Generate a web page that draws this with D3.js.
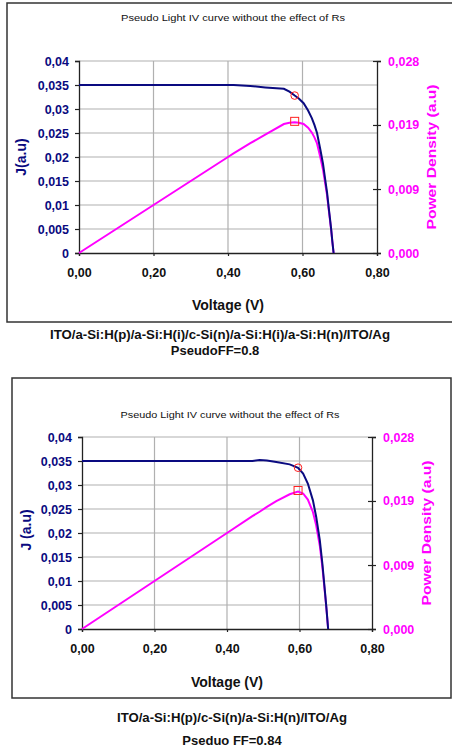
<!DOCTYPE html>
<html>
<head>
<meta charset="utf-8">
<script src="https://cdn.jsdelivr.net/npm/d3@7"></script>
<style>
body { margin: 0; background: #fff; }
text { font-family: "Liberation Sans", Arial, sans-serif; }
</style>
</head>
<body>
<script>
// tick values + labels (comma decimals like the original excel plot)
var jTicks = [0, 0.005, 0.01, 0.015, 0.02, 0.025, 0.03, 0.035, 0.04];
var jTickLabels = ["0", "0,005", "0,01", "0,015", "0,02", "0,025", "0,03", "0,035", "0,04"];
var vTicks = [0, 0.2, 0.4, 0.6, 0.8];
var vTickLabels = ["0,00", "0,20", "0,40", "0,60", "0,80"];
var pTicks = [0, 0.00933, 0.01867, 0.028];
var pTickLabels = ["0,000", "0,009", "0,019", "0,028"];

// chart 1 : ITO/a-Si:H(p)/a-Si:H(i)/c-Si(n)/a-Si:H(i)/a-Si:H(n)/ITO/Ag
var voltageTop = [0, 0.10, 0.20, 0.30, 0.40, 0.415, 0.46, 0.50, 0.55, 0.565, 0.579, 0.59, 0.603, 0.615, 0.625, 0.632, 0.639, 0.648, 0.655, 0.661, 0.666, 0.670, 0.674, 0.677, 0.680, 0.6835];
var currentTop = [0.035, 0.035, 0.035, 0.035, 0.035, 0.035, 0.0348, 0.0345, 0.0342, 0.0336, 0.0328, 0.0322, 0.0312, 0.0297, 0.0281, 0.0267, 0.025, 0.0215, 0.0186, 0.0153, 0.0126, 0.0097, 0.0070, 0.0049, 0.0025, 0];
var powerTop = [0, 0.0035, 0.007, 0.0105, 0.014, 0.01453, 0.01601, 0.01725, 0.01881, 0.01898, 0.01905, 0.01900, 0.01881, 0.01827, 0.01756, 0.01687, 0.01598, 0.01393, 0.01218, 0.01011, 0.00839, 0.0065, 0.00472, 0.00332, 0.0017, 0];
var mppTop = {v: 0.579, j: 0.0328, p: 0.0192};

// chart 2 : ITO/a-Si:H(p)/c-Si(n)/a-Si:H(n)/ITO/Ag
var voltageBottom = [0, 0.1, 0.2, 0.3, 0.4, 0.47, 0.49, 0.51, 0.536, 0.573, 0.596, 0.61, 0.623, 0.637, 0.646, 0.656, 0.663, 0.669, 0.674, 0.679];
var currentBottom = [0.035, 0.035, 0.035, 0.035, 0.035, 0.035, 0.0352, 0.0351, 0.0348, 0.0343, 0.0336, 0.0324, 0.0303, 0.0268, 0.0234, 0.0185, 0.0137, 0.0088, 0.0046, 0];
var powerBottom = [0, 0.0035, 0.007, 0.0105, 0.014, 0.01645, 0.0171, 0.0178, 0.01865, 0.01965, 0.02003, 0.01976, 0.01888, 0.01707, 0.01512, 0.01214, 0.00908, 0.00589, 0.0031, 0];
var mppBottom = {v: 0.596, j: 0.0336, p: 0.0202};

var svg = d3.select("body").append("svg")
    .attr("width", 452)
    .attr("height", 750);

function drawChart(c) {
    // outer frame
    svg.append("rect")
        .attr("x", c.frame[0]).attr("y", c.frame[1])
        .attr("width", c.frame[2]).attr("height", c.frame[3])
        .attr("fill", "#fff").attr("stroke", "#333").attr("stroke-width", 1.5);

    var x = d3.scaleLinear().domain([0, 0.8]).range([c.left, c.right]);
    var y = d3.scaleLinear().domain([0, 0.04]).range([c.bottom, c.top]);
    var y2 = d3.scaleLinear().domain([0, 0.028]).range([c.bottom, c.top]);

    var g = svg.append("g");

    // grid
    g.selectAll(".hgrid").data(jTicks.slice(1)).enter().append("line")
        .attr("x1", c.left).attr("x2", c.right)
        .attr("y1", function(d) { return y(d); }).attr("y2", function(d) { return y(d); })
        .attr("stroke", "#b0b0b0").attr("stroke-width", 1.2);
    g.selectAll(".vgrid").data(vTicks.slice(1, 4)).enter().append("line")
        .attr("y1", c.top).attr("y2", c.bottom)
        .attr("x1", function(d) { return x(d); }).attr("x2", function(d) { return x(d); })
        .attr("stroke", "#b0b0b0").attr("stroke-width", 1.2);

    // left axis
    var ax = g.append("g")
        .attr("transform", "translate(" + c.left + ",0)")
        .call(d3.axisLeft(y).tickValues(jTicks).tickSize(4).tickPadding(6)
            .tickFormat(function(d, i) { return jTickLabels[i]; }));
    ax.selectAll("text").attr("fill", "#0a0a80").style("font-size", "12.5px").style("font-weight", "bold");

    // bottom axis
    var bx = g.append("g")
        .attr("transform", "translate(0," + c.bottom + ")")
        .call(d3.axisBottom(x).tickValues(vTicks).tickSize(3).tickPadding(12)
            .tickFormat(function(d, i) { return vTickLabels[i]; }));
    bx.selectAll("text").attr("fill", "#111").style("font-size", "12.5px").style("font-weight", "bold");

    // right axis
    var rx = g.append("g")
        .attr("transform", "translate(" + c.right + ",0)")
        .call(d3.axisRight(y2).tickValues(pTicks).tickSize(4).tickPadding(7)
            .tickFormat(function(d, i) { return pTickLabels[i]; }));
    rx.selectAll(".tick line").attr("x1", -4);
    rx.selectAll("text").attr("fill", "#ff00ff").style("font-size", "12.5px").style("font-weight", "bold");

    [ax, bx, rx].forEach(function(a) {
        a.select(".domain").attr("stroke", "#222").attr("stroke-width", 1.3);
        a.selectAll(".tick line").attr("stroke", "#222").attr("stroke-width", 1.2);
    });

    // curves
    var jLine = d3.line()
        .x(function(d, i) { return x(c.volt[i]); })
        .y(function(d) { return y(d); });
    var pLine = d3.line()
        .x(function(d, i) { return x(c.volt[i]); })
        .y(function(d) { return y2(d); });

    g.append("path").datum(c.power).attr("d", pLine)
        .attr("fill", "none").attr("stroke", "#ff00ff").attr("stroke-width", 2);
    g.append("path").datum(c.current).attr("d", jLine)
        .attr("fill", "none").attr("stroke", "#0a0a80").attr("stroke-width", 2);

    // max power point markers
    g.append("circle")
        .attr("cx", x(c.mpp.v)).attr("cy", y(c.mpp.j)).attr("r", 3.8)
        .attr("fill", "none").attr("stroke", "#ff2020").attr("stroke-width", 1);
    g.append("rect")
        .attr("x", x(c.mpp.v) - 4).attr("y", y2(c.mpp.p) - 4)
        .attr("width", 8).attr("height", 8)
        .attr("fill", "none").attr("stroke", "#ff2020").attr("stroke-width", 1);

    // texts
    svg.append("text").text("Pseudo Light IV curve without the effect of Rs")
        .attr("x", c.titlePos[0]).attr("y", c.titlePos[1]).attr("text-anchor", "middle")
        .attr("dominant-baseline", "middle").attr("textLength", c.titlePos[2]).attr("lengthAdjust", "spacingAndGlyphs")
        .style("font-size", "9px").attr("fill", "#111");
    svg.append("text").text("Voltage (V)")
        .attr("x", c.xlabPos[0]).attr("y", c.xlabPos[1]).attr("text-anchor", "middle")
        .attr("dominant-baseline", "middle")
        .style("font-size", "14px").style("font-weight", "bold").attr("fill", "#111");
    svg.append("text").text(c.jLabel)
        .attr("transform", "translate(" + c.jlabPos[0] + "," + c.jlabPos[1] + ") rotate(-90)")
        .attr("text-anchor", "middle").attr("dominant-baseline", "middle")
        .style("font-size", "14px").style("font-weight", "bold").attr("fill", "#0a0a80");
    svg.append("text").text("Power Density (a.u)")
        .attr("transform", "translate(" + c.plabPos[0] + "," + c.plabPos[1] + ") rotate(-90)")
        .attr("text-anchor", "middle").attr("dominant-baseline", "middle")
        .attr("textLength", 145).attr("lengthAdjust", "spacingAndGlyphs")
        .style("font-size", "13px").style("font-weight", "bold").attr("fill", "#ff00ff");
    svg.append("text").text(c.caption)
        .attr("x", c.capPos[0]).attr("y", c.capPos[1]).attr("text-anchor", "middle")
        .attr("dominant-baseline", "middle").attr("textLength", c.capPos[2]).attr("lengthAdjust", "spacingAndGlyphs")
        .style("font-size", "13px").style("font-weight", "bold").attr("fill", "#111");
    svg.append("text").text(c.ff)
        .attr("x", c.ffPos[0]).attr("y", c.ffPos[1]).attr("text-anchor", "middle")
        .attr("dominant-baseline", "middle")
        .style("font-size", "13px").style("font-weight", "bold").attr("fill", "#111");
}

drawChart({
    frame: [7, 3, 452, 319],
    left: 79, right: 377, top: 61, bottom: 253,
    volt: voltageTop, current: currentTop, power: powerTop, mpp: mppTop,
    titlePos: [233, 19, 224], xlabPos: [228, 306], jlabPos: [22, 157], plabPos: [433, 157],
    jLabel: "J(a.u)",
    caption: "ITO/a-Si:H(p)/a-Si:H(i)/c-Si(n)/a-Si:H(i)/a-Si:H(n)/ITO/Ag", capPos: [220, 336, 340],
    ff: "PseudoFF=0.8", ffPos: [215, 352]
});

drawChart({
    frame: [12, 378, 439, 320],
    left: 82, right: 372, top: 437, bottom: 629,
    volt: voltageBottom, current: currentBottom, power: powerBottom, mpp: mppBottom,
    titlePos: [230, 416, 219], xlabPos: [227, 683], jlabPos: [27, 530], plabPos: [428, 533],
    jLabel: "J (a.u)",
    caption: "ITO/a-Si:H(p)/c-Si(n)/a-Si:H(n)/ITO/Ag", capPos: [232, 719, 230],
    ff: "Pseduo FF=0.84", ffPos: [232, 742]
});
</script>
</body>
</html>
